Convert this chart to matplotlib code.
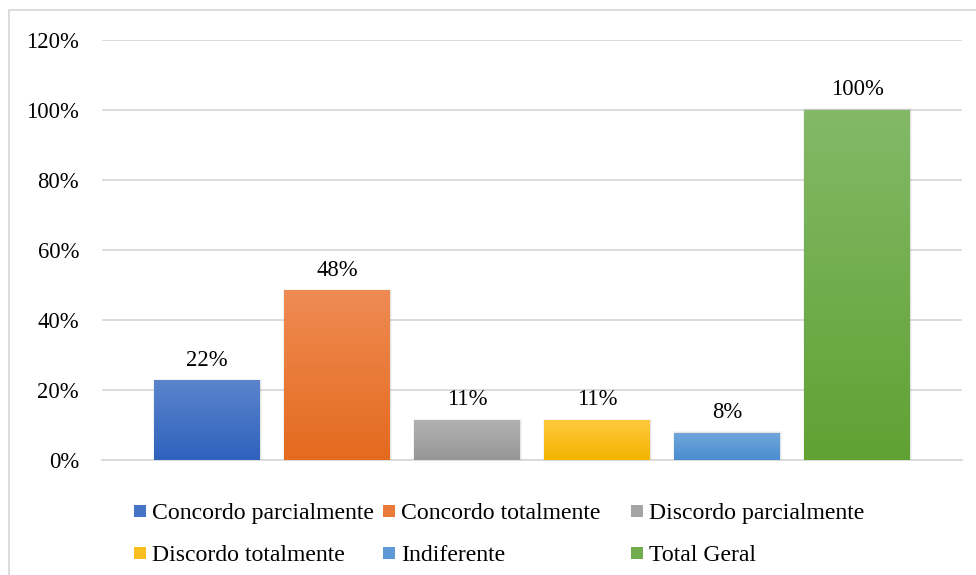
import numpy as np
import matplotlib.pyplot as plt
from matplotlib import colors
from matplotlib.patches import Rectangle
from matplotlib.ticker import FuncFormatter

categories = ['Concordo parcialmente', 'Concordo totalmente', 'Discordo parcialmente',
              'Discordo totalmente', 'Indiferente', 'Total Geral']
values = [0.226, 0.483, 0.113, 0.113, 0.077, 1.00]
value_labels = ['22%', '48%', '11%', '11%', '8%', '100%']

# gradient colours, top -> bottom
top_colors = ['#5b84cc', '#ef8b53', '#b2b2b2', '#ffc93e', '#70a6dc', '#83b967']
bottom_colors = ['#2e62bd', '#e46a1e', '#969696', '#f3b400', '#4a8dd0', '#60a133']

plt.rcParams['font.family'] = 'Liberation Serif'
grid_c = '#d9d9d9'

fig = plt.figure(figsize=(9.76, 5.75), dpi=100)
W, H = 976.0, 575.0

# outer chart border (right / bottom run off the picture)
fig.patches.append(Rectangle((9/W, -0.05), 1.1, 1 - 10/H + 0.05, transform=fig.transFigure,
                             fill=False, edgecolor=grid_c, lw=1.3, clip_on=False))

ax = fig.add_axes([102/W, 115/H, 860/W, 420/H])
x = np.arange(len(categories))
bars = ax.bar(x, values, width=0.815, color=bottom_colors, zorder=3)

t = np.linspace(0, 1, 200)[:, None, None]
for bar, c0, c1 in zip(bars, top_colors, bottom_colors):
    x0, w, h = bar.get_x(), bar.get_width(), bar.get_height()
    rgb = (1 - t)*np.array(colors.to_rgb(c0)) + t*np.array(colors.to_rgb(c1))
    ax.imshow(rgb, extent=(x0, x0 + w, 0, h), aspect='auto', origin='upper',
              interpolation='bilinear', zorder=4)
    # soft shadow, a couple of pixels wide
    for dx, dy, a in [(0.016, 0.005, 0.08), (0.008, 0.0025, 0.12)]:
        ax.add_patch(Rectangle((x0 - dx*0.5, 0), w + dx*1.5, h + dy,
                               color='#7f7f7f', alpha=a, lw=0, zorder=3.5))

for xi, v, lab in zip(x, values, value_labels):
    ax.annotate(lab, (xi, v), xytext=(0, 11), textcoords='offset points',
                ha='center', va='baseline', fontsize=16.3, color='#000000')

ax.set_xlim(-0.8077, 5.8077)
ax.set_ylim(0, 1.2)
ax.set_yticks(np.arange(0, 1.21, 0.2))
ax.yaxis.set_major_formatter(FuncFormatter(lambda v, p: f'{v*100:.0f}%'))
ax.set_xticks([])
ax.yaxis.grid(True, color=grid_c, lw=1.3)
ax.set_axisbelow(True)
for s in ['top', 'right', 'left']:
    ax.spines[s].set_visible(False)
ax.spines['bottom'].set_color(grid_c)
ax.spines['bottom'].set_linewidth(1.3)
ax.tick_params(axis='y', length=0, pad=16.5, labelsize=16.3)

# legend laid out like the original (uniform column widths)
col_x = [134, 383, 631]
row_y = [511, 553]
for i, (cat, c0, c1) in enumerate(zip(categories, top_colors, bottom_colors)):
    cx = col_x[i % 3]
    cy = row_y[i // 3]
    mid = 0.5*(np.array(colors.to_rgb(c0)) + np.array(colors.to_rgb(c1)))
    fig.patches.append(Rectangle((cx/W, 1 - (cy + 6)/H), 12/W, 12/H,
                                 transform=fig.transFigure, color=mid, lw=0))
    fig.text((cx + 18)/W, 1 - cy/H, cat, ha='left', va='center_baseline',
             fontsize=17.1, color='#000000')

plt.savefig('out.png', dpi=100)
